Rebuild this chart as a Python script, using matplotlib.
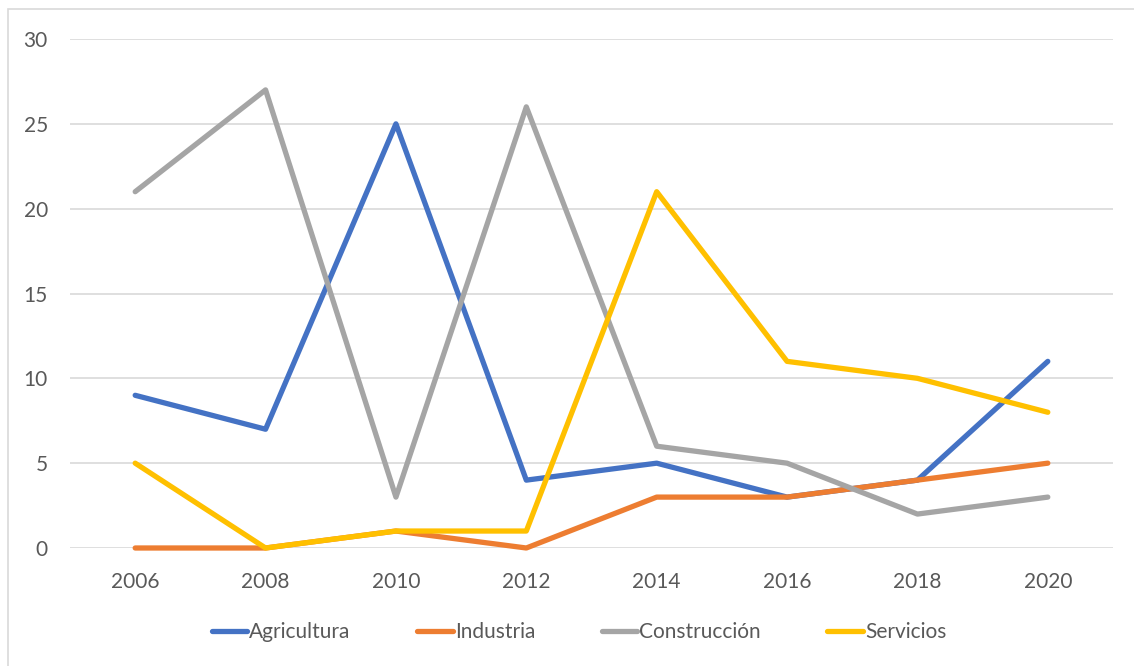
import matplotlib.pyplot as plt
from matplotlib.patches import Rectangle

years = ["2006", "2008", "2010", "2012", "2014", "2016", "2018", "2020"]
agricultura = [9, 7, 25, 4, 5, 3, 4, 11]
industria = [0, 0, 1, 0, 3, 3, 4, 5]
construccion = [21, 27, 3, 26, 6, 5, 2, 3]
servicios = [5, 0, 1, 1, 21, 11, 10, 8]

series = [
    ("Agricultura", agricultura, "#4472C4"),
    ("Industria", industria, "#ED7D31"),
    ("Construcción", construccion, "#A5A5A5"),
    ("Servicios", servicios, "#FFC000"),
]

plt.rcParams["font.family"] = ["Lato", "DejaVu Sans"]
text_color = "#595959"

W, H = 1134, 666
fig = plt.figure(figsize=(W / 100, H / 100), dpi=100)
ax = fig.add_axes([70 / W, 1 - 548 / H, (1113 - 70) / W, (548 - 39) / H])

# chart area border
fig.add_artist(Rectangle((8 / W, -0.01), 1.02, 1 - 9 / H + 0.01, transform=fig.transFigure,
                         fill=False, edgecolor="#D9D9D9", linewidth=1.2))

x = range(len(years))
for name, vals, color in series:
    ax.plot(x, vals, color=color, linewidth=3.8, solid_capstyle="round",
            solid_joinstyle="round", label=name, clip_on=False)

ax.set_xlim(-0.5, len(years) - 0.5)
ax.set_ylim(0, 30)
ax.set_yticks(range(0, 31, 5))
ax.set_xticks(list(x))
ax.set_xticklabels(years)
ax.grid(axis="y", color="#D9D9D9", linewidth=1.2)
ax.set_axisbelow(True)
for s in ax.spines.values():
    s.set_visible(False)
ax.tick_params(length=0, labelsize=15, labelcolor=text_color)
ax.tick_params(axis="y", pad=16)
ax.tick_params(axis="x", pad=17)

leg = fig.legend(loc="center", bbox_to_anchor=(0.5 + 12 / W, 1 - 632 / H), ncol=4, frameon=False,
                 fontsize=15, handlelength=1.7, handletextpad=0.1, columnspacing=3.2,
                 labelcolor=text_color)

fig.savefig("out.png", dpi=100)
